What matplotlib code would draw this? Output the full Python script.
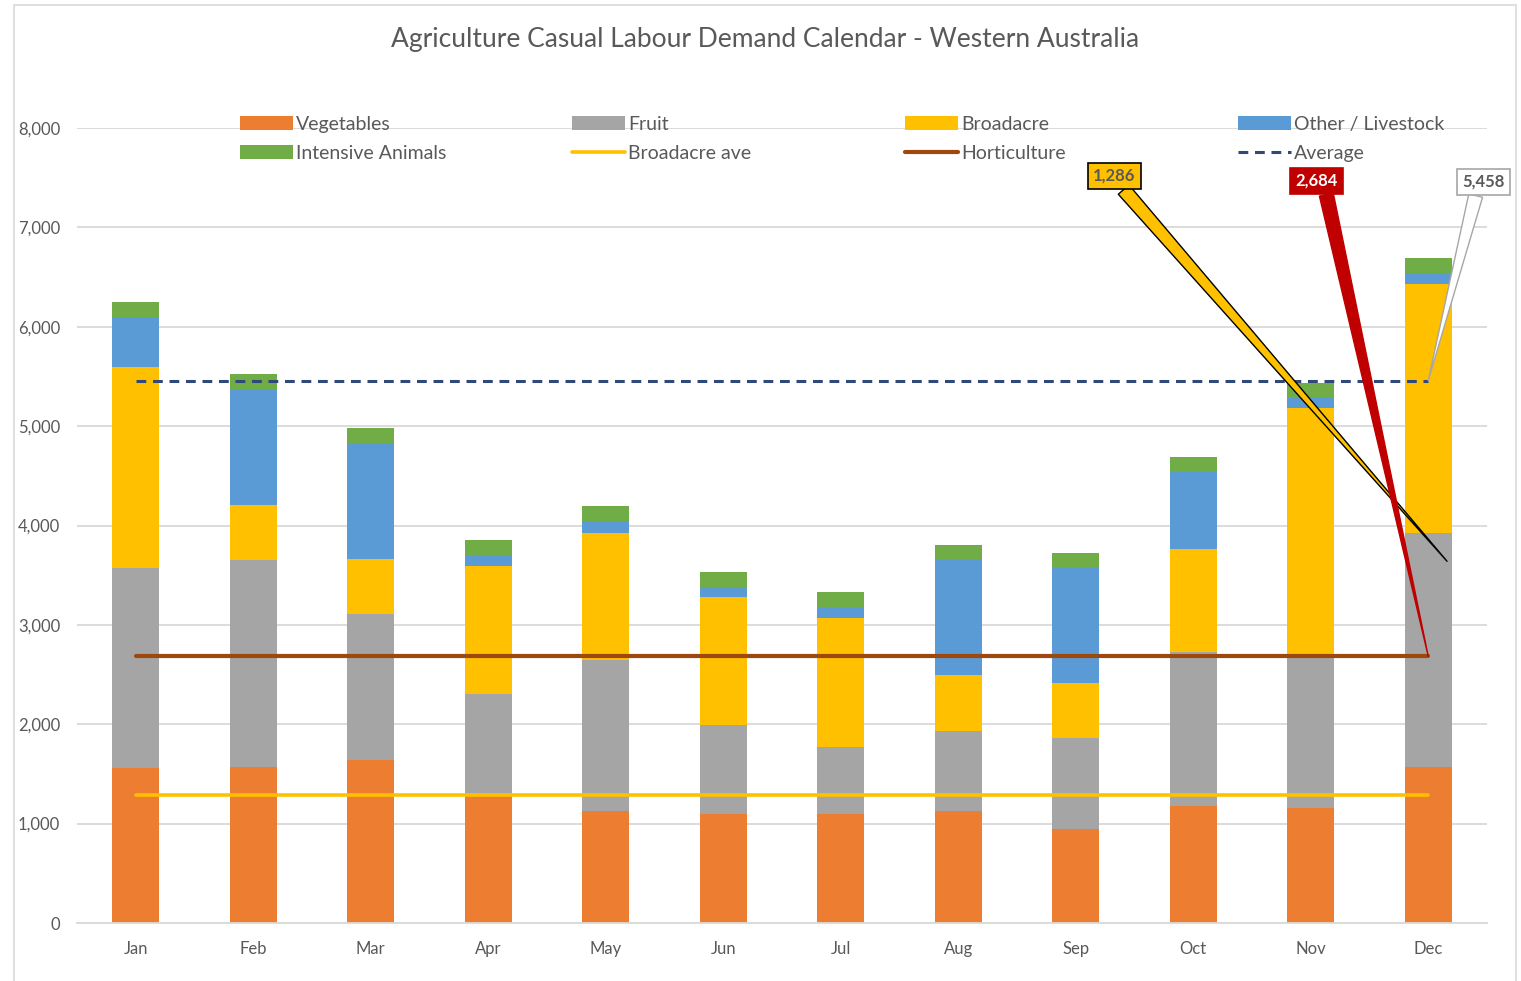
import matplotlib.pyplot as plt
from matplotlib.patches import Rectangle
import numpy as np

plt.rcParams['font.family'] = ['Lato', 'DejaVu Sans']

months = ['Jan', 'Feb', 'Mar', 'Apr', 'May', 'Jun', 'Jul', 'Aug', 'Sep', 'Oct', 'Nov', 'Dec']

# values (workers per month)
vegetables = [1560, 1570, 1640, 1290, 1127, 1097, 1097, 1127, 946, 1180, 1157, 1570]
fruit = [2011, 2082, 1469, 1014, 1519, 895, 674, 805, 915, 1546, 1539, 2350]
broadacre = [2023, 553, 553, 1288, 1278, 1288, 1297, 563, 553, 1042, 2489, 2509]
other_livestock = [493, 1167, 1167, 110, 120, 100, 101, 1160, 1161, 772, 100, 110]
intensive = [161, 151, 151, 151, 151, 151, 161, 151, 151, 151, 151, 151]

broadacre_ave = 1286
horticulture_ave = 2684
overall_ave = 5458

colors = {
    'Vegetables': '#ED7D31',
    'Fruit': '#A5A5A5',
    'Broadacre': '#FFC000',
    'Other / Livestock': '#5B9BD5',
    'Intensive Animals': '#70AD47',
}
txt_col = '#595959'

fig = plt.figure(figsize=(15.21, 9.81), dpi=100)
ax = fig.add_axes([77 / 1521, 1 - 923 / 981, 1410 / 1521, 795 / 981])

x = np.arange(len(months))
w = 0.40
bottom = np.zeros(len(months))
bars = {}
for name, vals in [('Vegetables', vegetables), ('Fruit', fruit), ('Broadacre', broadacre),
                   ('Other / Livestock', other_livestock), ('Intensive Animals', intensive)]:
    bars[name] = ax.bar(x, vals, w, bottom=bottom, color=colors[name], zorder=2, label=name)
    bottom += np.array(vals)

# average lines, drawn from Jan to Dec
l_ba, = ax.plot([x[0], x[-1]], [broadacre_ave] * 2, color='#FFC000', lw=2.6, zorder=3,
                solid_capstyle='round', label='Broadacre ave')
l_hort, = ax.plot([x[0], x[-1]], [horticulture_ave] * 2, color='#9E480E', lw=3.0, zorder=3,
                  solid_capstyle='round', label='Horticulture')
l_avg, = ax.plot([x[0], x[-1]], [overall_ave] * 2, color='#2F4A7A', lw=2.2, zorder=3,
                 dashes=(3.2, 2.2), label='Average')

ax.set_xlim(-0.5, 11.5)
ax.set_ylim(0, 8000)
ax.set_yticks(range(0, 8001, 1000))
ax.set_yticklabels([f'{v:,}' for v in range(0, 8001, 1000)])
ax.set_xticks(x)
ax.set_xticklabels(months)
ax.tick_params(axis='both', length=0, labelsize=12, labelcolor=txt_col)
ax.tick_params(axis='y', pad=12)
ax.tick_params(axis='x', pad=13)
ax.grid(axis='y', color='#D9D9D9', lw=1.3, zorder=0)
ax.set_axisbelow(True)
for s in ['top', 'right', 'left']:
    ax.spines[s].set_visible(False)
ax.spines['bottom'].set_color('#D9D9D9')
ax.spines['bottom'].set_linewidth(1.3)

fig.text(765 / 1521, 1 - 39 / 981, 'Agriculture Casual Labour Demand Calendar - Western Australia',
         ha='center', va='center', fontsize=19, color=txt_col)

# legend: four evenly spaced columns
cols = [
    ([bars['Vegetables'], bars['Intensive Animals']], ['Vegetables', 'Intensive Animals']),
    ([bars['Fruit'], l_ba], ['Fruit', 'Broadacre ave']),
    ([bars['Broadacre'], l_hort], ['Broadacre', 'Horticulture']),
    ([bars['Other / Livestock'], l_avg], ['Other / Livestock', 'Average']),
]
col_x = [240, 572, 905, 1238]
for (h, lab), cx in zip(cols, col_x):
    leg = fig.legend(h, lab, loc='upper left', bbox_to_anchor=(cx / 1521, 1 - 116 / 981),
                     frameon=False, fontsize=14, handlelength=2.75, handletextpad=0.15,
                     labelspacing=0.62, borderpad=0, borderaxespad=0)
    for t in leg.get_texts():
        t.set_color(txt_col)

# data label callouts
callouts = [
    ('1,286', (11.16, 3640), (8.33, 7517), '#FFC000', 'black', txt_col, (0.6, 0)),
    ('2,684', (11.0, horticulture_ave), (10.05, 7467), '#C00000', '#C00000', 'white', (0.7, 0)),
    ('5,458', (11.0, overall_ave), (11.47, 7457), 'white', '#A6A6A6', txt_col, (0.35, 0)),
]
for lab, xy, xyt, fc, ec, tc, rp in callouts:
    ax.annotate(lab, xy=xy, xytext=xyt, ha='center', va='center', fontsize=12,
                fontweight='bold', color=tc, zorder=6, annotation_clip=False,
                bbox=dict(boxstyle='square,pad=0.3', fc=fc, ec=ec, lw=1.2),
                arrowprops=dict(arrowstyle='wedge,tail_width=0.85', fc=fc, ec=ec, lw=1.0,
                                shrinkA=0, shrinkB=0, relpos=rp))

# chart area border
fig.patches.append(Rectangle((14 / 1521, -0.02), 1502 / 1521, 1 - 5 / 981 + 0.02,
                             transform=fig.transFigure, fill=False, ec='#D9D9D9', lw=1.2))

plt.savefig('out.png', dpi=100)
